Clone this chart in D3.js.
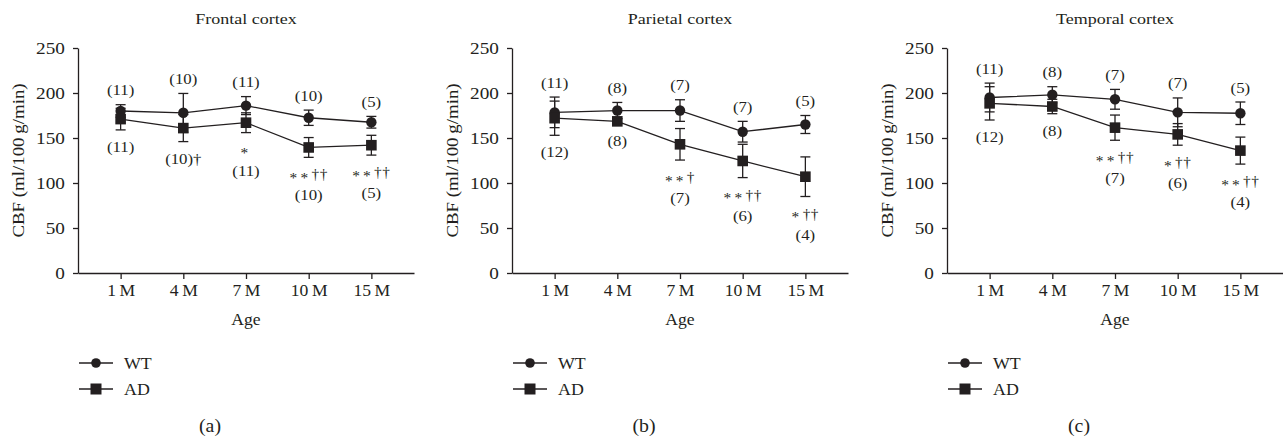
<!DOCTYPE html>
<html>
<head>
<meta charset="utf-8">
<script src="https://cdn.jsdelivr.net/npm/d3@7"></script>
<style>
  html, body { margin: 0; padding: 0; background: #fff; }
  svg text { font-family: "Liberation Serif", "Times New Roman", serif; fill: #231f20; }
</style>
</head>
<body>
<svg id="chart" width="1283" height="440"></svg>
<script>
// CBF by age, WT vs AD mice, three cortical regions

var ages = ["1\u2009M", "4\u2009M", "7\u2009M", "10\u2009M", "15\u2009M"];
var yTicks = [0, 50, 100, 150, 200, 250];
var regions = ["Frontal cortex", "Parietal cortex", "Temporal cortex"];
var tags = ["(a)", "(b)", "(c)"];
var groups = ["WT", "AD"];

var wtMean = [
  [180, 178, 186, 172.5, 167.5],
  [178.5, 180.5, 180.5, 157, 165],
  [195, 198, 193, 178.5, 177.5]
];
var wtErr = [
  [7, 21.5, 10, 8.5, 6.5],
  [17, 9, 12, 11.5, 10],
  [16, 9, 11, 16, 12.5]
];
var adMean = [
  [171, 161, 167, 139.5, 142],
  [172, 168.5, 143, 124.5, 107],
  [188.5, 185, 161.5, 154, 136]
];
var adErr = [
  [12, 15, 11, 11, 11],
  [19, 3, 17.5, 18.5, 22],
  [18.5, 8, 14, 12, 15]
];
var wtN = [
  ["(11)", "(10)", "(11)", "(10)", "(5)"],
  ["(11)", "(8)", "(7)", "(7)", "(5)"],
  ["(11)", "(8)", "(7)", "(7)", "(5)"]
];
// first line = significance marks (if any), last line = n
var adNotes = [
  [["(11)"], ["(10)\u2020"], ["*", "(11)"], ["**\u2020\u2020", "(10)"], ["**\u2020\u2020", "(5)"]],
  [["(12)"], ["(8)"], ["**\u2020", "(7)"], ["**\u2020\u2020", "(6)"], ["*\u2020\u2020", "(4)"]],
  [["(12)"], ["(8)"], ["**\u2020\u2020", "(7)"], ["*\u2020\u2020", "(6)"], ["**\u2020\u2020", "(4)"]]
];

var ink = "#231f20";
var panelLeft = [78, 512, 947];
var plotW = 336;
var yTop = 48, yBottom = 273;

var svg = d3.select("#chart");

// text helper, the original font is wider than Times so stretch a bit
function label(g, x, y, s, size, sx, anchor) {
  return g.append("text")
    .attr("transform", "translate(" + x + "," + y + ") scale(" + sx + ",1)")
    .attr("text-anchor", anchor || "middle")
    .style("font-size", size + "px")
    .text(s);
}

regions.forEach(function(region, p) {
  var left = panelLeft[p];
  var g = svg.append("g");

  var x = d3.scalePoint().domain(ages).range([left, left + plotW]).padding(0.68);
  var y = d3.scaleLinear().domain([0, 250]).range([yBottom, yTop]);

  var yAxis = g.append("g")
    .attr("transform", "translate(" + left + ",0)")
    .call(d3.axisLeft(y).tickValues(yTicks).tickSize(5).tickSizeOuter(0).tickPadding(6));
  var xAxis = g.append("g")
    .attr("transform", "translate(0," + yBottom + ")")
    .call(d3.axisBottom(x).tickSize(6).tickSizeOuter(0).tickPadding(6));

  [yAxis, xAxis].forEach(function(a) {
    a.select(".domain").attr("stroke", ink).attr("stroke-width", 1.3);
    a.selectAll(".tick line").attr("stroke", ink).attr("stroke-width", 1.3);
    a.selectAll(".tick text").attr("fill", ink)
      .style("font-family", "'Liberation Serif', serif").style("font-size", "16px");
  });
  yAxis.selectAll(".tick text").attr("transform", "scale(1.2,1)");
  xAxis.selectAll(".tick text").attr("transform", "scale(1.1,1)");

  // titles
  label(g, x(ages[2]), 24, region, 15, 1.2);
  label(g, x(ages[2]), 325, "Age", 16, 1.1);
  g.append("text")
    .attr("transform", "translate(" + (left - 54) + "," + ((yTop + yBottom) / 2) + ") rotate(-90) scale(1.18,1)")
    .attr("text-anchor", "middle")
    .style("font-size", "16px")
    .text("CBF (ml/100\u2009g/min)");

  var series = [
    { name: "WT", mean: wtMean[p], err: wtErr[p] },
    { name: "AD", mean: adMean[p], err: adErr[p] }
  ];

  // error bars
  series.forEach(function(s) {
    var bars = g.append("g").selectAll("g")
      .data(ages.map(function(a, i) { return { age: a, m: s.mean[i], e: s.err[i] }; }))
      .enter().append("g")
      .attr("stroke", ink).attr("stroke-width", 1.3);
    bars.append("line")
      .attr("x1", function(d) { return x(d.age); })
      .attr("x2", function(d) { return x(d.age); })
      .attr("y1", function(d) { return y(d.m - d.e); })
      .attr("y2", function(d) { return y(d.m + d.e); });
    [-1, 1].forEach(function(sign) {
      bars.append("line")
        .attr("x1", function(d) { return x(d.age) - 5; })
        .attr("x2", function(d) { return x(d.age) + 5; })
        .attr("y1", function(d) { return y(d.m + sign * d.e); })
        .attr("y2", function(d) { return y(d.m + sign * d.e); });
    });
  });

  // lines
  var line = d3.line()
    .x(function(d, i) { return x(ages[i]); })
    .y(function(d) { return y(d); });
  series.forEach(function(s) {
    g.append("path")
      .attr("d", line(s.mean))
      .attr("fill", "none")
      .attr("stroke", ink)
      .attr("stroke-width", 1.3);
  });

  // markers
  g.append("g").selectAll("circle")
    .data(wtMean[p]).enter().append("circle")
    .attr("cx", function(d, i) { return x(ages[i]); })
    .attr("cy", function(d) { return y(d); })
    .attr("r", 5.2)
    .attr("fill", ink);
  g.append("g").selectAll("rect")
    .data(adMean[p]).enter().append("rect")
    .attr("x", function(d, i) { return x(ages[i]) - 5.3; })
    .attr("y", function(d) { return y(d) - 5.3; })
    .attr("width", 10.6).attr("height", 10.6)
    .attr("fill", ink);

  // n labels above WT, stats + n below AD
  wtN[p].forEach(function(s, i) {
    label(g, x(ages[i]), y(wtMean[p][i] + wtErr[p][i]) - 9.5, s, 15, 1.12);
  });
  adNotes[p].forEach(function(lines, i) {
    var base = y(adMean[p][i] - adErr[p][i]) + 22;
    lines.forEach(function(s, k) {
      var ty = base + k * 21;
      if (s.charAt(0) === "(") {
        label(g, x(ages[i]), ty, s, 15, 1.12);
        return;
      }
      var stars = s.replace(/\u2020/g, ""), daggers = s.replace(/\*/g, "");
      var t = g.append("text")
        .attr("transform", "translate(" + x(ages[i]) + "," + ty + ") scale(1.1,1)")
        .attr("text-anchor", "middle")
        .style("font-size", "14px");
      t.append("tspan").attr("dy", 3.5).style("letter-spacing", "3px").text(stars);
      t.append("tspan").attr("dy", -3.5).style("letter-spacing", "0.5px").text(daggers);
    });
  });

  // legend
  var legY = [363, 389];
  groups.forEach(function(name, k) {
    var ly = legY[k];
    g.append("line")
      .attr("x1", left + 1).attr("x2", left + 35)
      .attr("y1", ly).attr("y2", ly)
      .attr("stroke", ink).attr("stroke-width", 1.3);
    if (name === "WT") {
      g.append("circle").attr("cx", left + 18).attr("cy", ly).attr("r", 4.8).attr("fill", ink);
    } else {
      g.append("rect").attr("x", left + 12.5).attr("y", ly - 5.5)
        .attr("width", 11).attr("height", 11).attr("fill", ink);
    }
    label(g, left + 46, ly + 6, name, 17, 1.05, "start");
  });

  label(g, left + 132, 432, tags[p], 18, 1.1);
});
</script>
</body>
</html>
